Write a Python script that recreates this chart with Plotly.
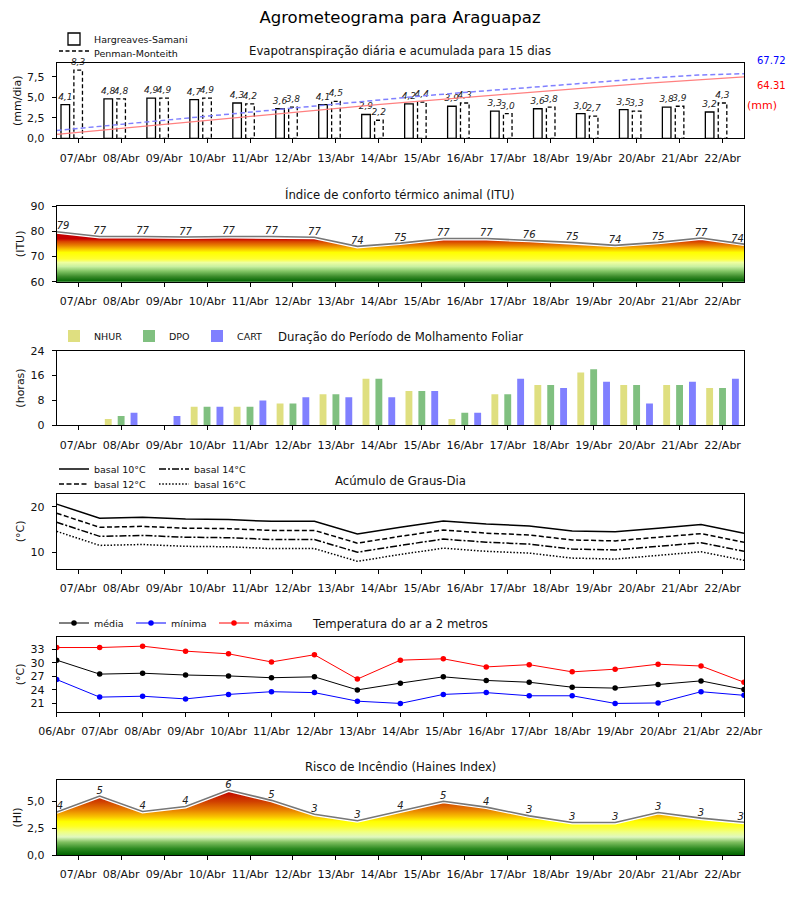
import plotly.graph_objects as go

# ---------------- data ----------------
dates = ["06/Abr", "07/Abr", "08/Abr", "09/Abr", "10/Abr", "11/Abr", "12/Abr", "13/Abr",
         "14/Abr", "15/Abr", "16/Abr", "17/Abr", "18/Abr", "19/Abr", "20/Abr", "21/Abr", "22/Abr"]
days = dates[1:]

et_hs = [4.1, 4.8, 4.9, 4.7, 4.3, 3.6, 4.1, 2.9, 4.2, 3.9, 3.3, 3.6, 3.0, 3.5, 3.8, 3.2]
et_pm = [8.3, 4.8, 4.9, 4.9, 4.2, 3.8, 4.5, 2.2, 4.4, 4.3, 3.0, 3.8, 2.7, 3.3, 3.9, 4.3]
cum_hs = [4.1, 8.6, 13.1, 17.5, 22.0, 26.4, 30.8, 35.2, 39.3, 43.2, 47.0, 50.8, 54.5, 58.0, 61.4, 64.31]
cum_pm = [8.3, 12.9, 17.5, 22.1, 26.6, 31.2, 35.8, 40.3, 44.5, 48.4, 52.2, 56.0, 59.7, 63.3, 66.3, 67.72]

itu = [79.8, 77.9, 77.9, 77.7, 77.9, 77.9, 77.6, 74.0, 75.3, 77.1, 77.1, 76.4, 75.6, 74.4, 75.6, 77.3, 74.9]

nhur = [0, 2, 0, 6, 6, 7, 10, 15, 11, 2, 10, 13, 17, 13, 13, 12]
dpo = [0, 3, 0, 6, 6, 7, 10, 15, 11, 4, 10, 13, 18, 13, 13, 12]
cart = [0, 4, 3, 6, 8, 9, 9, 9, 11, 4, 15, 12, 14, 7, 14, 15]

gd10 = [20.6, 17.5, 17.7, 17.3, 17.2, 16.8, 16.8, 14.0, 15.5, 16.9, 16.2, 15.8, 14.7, 14.5, 15.3, 16.1, 14.2]
gd12 = [18.6, 15.5, 15.7, 15.3, 15.2, 14.8, 14.8, 12.0, 13.5, 14.9, 14.2, 13.8, 12.7, 12.5, 13.3, 14.1, 12.2]
gd14 = [16.6, 13.5, 13.7, 13.3, 13.2, 12.8, 12.8, 10.0, 11.5, 12.9, 12.2, 11.8, 10.7, 10.5, 11.3, 12.1, 10.2]
gd16 = [14.6, 11.5, 11.7, 11.3, 11.2, 10.8, 10.8, 8.0, 9.5, 10.9, 10.2, 9.8, 8.7, 8.5, 9.3, 10.1, 8.2]

t_med = [30.6, 27.5, 27.7, 27.3, 27.1, 26.7, 26.9, 24.0, 25.5, 26.9, 26.1, 25.7, 24.6, 24.4, 25.2, 26.0, 24.1]
t_min = [26.3, 22.4, 22.6, 22.0, 23.0, 23.6, 23.4, 21.5, 21.0, 23.0, 23.4, 22.7, 22.7, 21.0, 21.1, 23.6, 22.8]
t_max = [33.4, 33.4, 33.7, 32.6, 32.0, 30.2, 31.8, 26.4, 30.6, 30.9, 29.1, 29.6, 28.0, 28.6, 29.7, 29.3, 25.7]

haines = [4.02, 5.5, 4.06, 4.53, 6.06, 5.1, 3.8, 3.2, 4.1, 5.02, 4.47, 3.65, 3.03, 3.03, 3.97, 3.44, 3.05]

# ---------------- helpers ----------------
FONT = "DejaVu Sans"
OX, OY = 8, 8            # page body margin of the browser
W, H = 784, 884          # figure size so that it fits the 800x900 window


def px(xs):
    return (xs - OX) / W


def py(ys):
    return 1 - (ys - OY) / H


XDOM = [px(56.7), px(744)]


def ydom(top_px, bot_px):
    return [py(bot_px), py(top_px)]


def axstyle(**kw):
    d = dict(showline=True, mirror=True, linecolor="black", linewidth=1, automargin=False,
             ticks="outside", ticklen=4, tickcolor="black", showgrid=False, ticklabelstandoff=5,
             zeroline=False, tickfont=dict(size=11, color="#111", family=FONT))
    d.update(kw)
    return d


def leg(text_x, ypx):
    return dict(x=px(text_x - 39), y=py(ypx), xanchor="left", yanchor="middle", orientation="v",
                font=dict(size=9.5, family=FONT, color="#111"), bgcolor="rgba(0,0,0,0)",
                borderwidth=0, tracegroupgap=0, itemwidth=30)


n_bar = len(days)
n_pt = len(dates)
bar_idx = list(range(n_bar))
pt_idx = list(range(n_pt))
mid_ticks = [i + 0.5 for i in range(n_bar)]

fig = go.Figure()

# ---------- Panel 1: ET ----------
fig.add_trace(go.Bar(x=bar_idx, y=et_hs, width=0.2, offset=-0.4,
                     marker=dict(color="white", line=dict(color="black", width=1.3)),
                     texttemplate="%{y:.1f}", textposition="outside", constraintext="none",
                     cliponaxis=False, textfont=dict(size=9, style="italic", color="#222", family=FONT),
                     name="Hargreaves-Samani", legend="legend", xaxis="x", yaxis="y"))
fig.add_trace(go.Bar(x=bar_idx, y=et_pm, width=0.2, offset=-0.1,
                     marker=dict(color="white", line=dict(width=0)),
                     texttemplate="%{y:.1f}", textposition="outside", constraintext="none",
                     cliponaxis=False, textfont=dict(size=9, style="italic", color="#222", family=FONT),
                     showlegend=False, xaxis="x", yaxis="y"))
pm_x, pm_y = [], []
for i, v in enumerate(et_pm):
    pm_x += [i - 0.1, i - 0.1, i + 0.1, i + 0.1, i - 0.1, None]
    pm_y += [0, v, v, 0, 0, None]
fig.add_trace(go.Scatter(x=pm_x, y=pm_y, mode="lines", fill="toself", fillcolor="white",
                         line=dict(color="black", width=1.3, dash="4px,2.5px"),
                         name="Penman-Monteith", legend="legend2", xaxis="x", yaxis="y"))
fig.add_trace(go.Scatter(x=bar_idx, y=cum_hs, mode="lines", line=dict(color="#ff8080", width=1.3),
                         showlegend=False, xaxis="x7", yaxis="y7"))
fig.add_trace(go.Scatter(x=bar_idx, y=cum_pm, mode="lines",
                         line=dict(color="#8080ff", width=1.5, dash="5px,3px"),
                         showlegend=False, xaxis="x7", yaxis="y7"))

# ---------- Panel 2: ITU ----------
itu_scale = [[0.0, "#006400"], [0.1, "#3a8a2a"], [0.2, "#7cc060"], [0.3, "#c8f0a0"],
             [0.38, "#eeffa0"], [0.45, "#ffff30"], [0.58, "#ffff00"], [0.65, "#f8c000"],
             [0.72, "#e88000"], [0.8, "#d84000"], [0.85, "#c80000"], [1.0, "#c00000"]]
fig.add_trace(go.Scatter(x=pt_idx, y=itu, mode="lines", fill="tozeroy",
                         fillgradient=dict(type="vertical", colorscale=itu_scale, start=60, stop=80),
                         line=dict(width=0), showlegend=False, xaxis="x2", yaxis="y2"))
fig.add_trace(go.Scatter(x=pt_idx, y=itu, mode="lines", line=dict(color="white", width=4),
                         showlegend=False, xaxis="x2", yaxis="y2"))
fig.add_trace(go.Scatter(x=pt_idx, y=itu, mode="lines", line=dict(color="#777777", width=1.6),
                         showlegend=False, xaxis="x2", yaxis="y2"))
edge_pos = ["top right"] + ["top center"] * (n_pt - 2) + ["top left"]
fig.add_trace(go.Scatter(x=pt_idx, y=itu, mode="text", text=[str(int(v)) for v in itu],
                         textposition=edge_pos, cliponaxis=False,
                         textfont=dict(size=10, style="italic", color="#222", family=FONT),
                         showlegend=False, xaxis="x2", yaxis="y2"))

# ---------- Panel 3: wetness ----------
for vals, name, col, off, lg in [(nhur, "NHUR", "#dfdf80", -0.38, "legend3"),
                                 (dpo, "DPO", "#80c080", -0.08, "legend4"),
                                 (cart, "CART", "#8080ff", 0.22, "legend5")]:
    fig.add_trace(go.Bar(x=bar_idx, y=vals, width=0.16, offset=off, marker=dict(color=col, line=dict(width=0)),
                         name=name, legend=lg, xaxis="x3", yaxis="y3"))

# ---------- Panel 4: degree days ----------
for vals, name, dash, lg in [(gd10, "basal 10°C", "solid", "legend6"),
                             (gd12, "basal 12°C", "5px,2.5px", "legend7"),
                             (gd14, "basal 14°C", "7px,2px,2px,2px", "legend8"),
                             (gd16, "basal 16°C", "1.5px,1.8px", "legend9")]:
    fig.add_trace(go.Scatter(x=pt_idx, y=vals, mode="lines", line=dict(color="black", width=1.5, dash=dash),
                             name=name, legend=lg, xaxis="x4", yaxis="y4"))

# ---------- Panel 5: temperature ----------
for vals, name, col, lg in [(t_med, "média", "black", "legend10"), (t_min, "mínima", "blue", "legend11"),
                            (t_max, "máxima", "red", "legend12")]:
    fig.add_trace(go.Scatter(x=pt_idx, y=vals, mode="lines+markers", line=dict(color=col, width=1),
                             marker=dict(color=col, size=5.5), name=name, legend=lg,
                             xaxis="x5", yaxis="y5"))

# ---------- Panel 6: Haines ----------
hi_scale = [[0.0, "#006400"], [0.1, "#2e8b22"], [0.2, "#80c060"], [0.28, "#e0f8c0"],
            [0.36, "#f0ff80"], [0.45, "#ffff20"], [0.52, "#ffff00"], [0.6, "#f8c000"],
            [0.7, "#e88000"], [0.83, "#d04000"], [1.0, "#c00000"]]
fig.add_trace(go.Scatter(x=pt_idx, y=haines, mode="lines", fill="tozeroy",
                         fillgradient=dict(type="vertical", colorscale=hi_scale, start=0, stop=6),
                         line=dict(width=0), showlegend=False, xaxis="x6", yaxis="y6"))
fig.add_trace(go.Scatter(x=pt_idx, y=haines, mode="lines", line=dict(color="white", width=4),
                         showlegend=False, xaxis="x6", yaxis="y6"))
fig.add_trace(go.Scatter(x=pt_idx, y=haines, mode="lines", line=dict(color="#777777", width=1.6),
                         showlegend=False, xaxis="x6", yaxis="y6"))
fig.add_trace(go.Scatter(x=pt_idx, y=haines, mode="text", text=[str(int(v)) for v in haines],
                         textposition=edge_pos, cliponaxis=False,
                         textfont=dict(size=10, style="italic", color="#222", family=FONT),
                         showlegend=False, xaxis="x6", yaxis="y6"))

# ---------------- layout ----------------
ytitle = lambda t: dict(text=t, font=dict(size=11, color="#111", family=FONT), standoff=3)

layout = dict(
    template="none",
    width=W, height=H, margin=dict(l=0, r=0, t=0, b=0, autoexpand=False),
    paper_bgcolor="white", plot_bgcolor="white", separators=",.",
    barmode="overlay", font=dict(family=FONT, color="#111"),
    title=dict(text="Agrometeograma para Araguapaz", x=px(400), xanchor="center", y=py(17), yanchor="middle",
               font=dict(size=16.5, color="black", family=FONT)),
    xaxis=axstyle(domain=XDOM, anchor="y", range=[-0.5, 15.5], tickvals=bar_idx, ticktext=days),
    yaxis=axstyle(domain=ydom(63.3, 138.3), anchor="x", range=[0, 9.13], tickvals=[0, 2.5, 5, 7.5],
                  tickformat=".1f", title=ytitle("(mm/dia)")),
    xaxis7=dict(overlaying="x", anchor="y7", range=[0, 15], visible=False),
    yaxis7=dict(overlaying="y", anchor="x7", side="right", range=[0, 78.6], visible=False),
    xaxis2=axstyle(domain=XDOM, anchor="y2", range=[0, 16], tickvals=mid_ticks, ticktext=days),
    yaxis2=axstyle(domain=ydom(206, 281.7), anchor="x2", range=[60, 90], tickvals=[60, 70, 80, 90],
                   title=ytitle("(ITU)")),
    xaxis3=axstyle(domain=XDOM, anchor="y3", range=[-0.5, 15.5], tickvals=bar_idx, ticktext=days),
    yaxis3=axstyle(domain=ydom(350.7, 425.3), anchor="x3", range=[0, 24], tickvals=[0, 8, 16, 24],
                   title=ytitle("(horas)")),
    xaxis4=axstyle(domain=XDOM, anchor="y4", range=[0, 16], tickvals=mid_ticks, ticktext=days),
    yaxis4=axstyle(domain=ydom(493.7, 569), anchor="x4", range=[6.3, 22.9], tickvals=[10, 20],
                   title=ytitle("(°C)")),
    xaxis5=axstyle(domain=XDOM, anchor="y5", range=[0, 16], tickvals=pt_idx, ticktext=dates),
    yaxis5=axstyle(domain=ydom(636.7, 712), anchor="x5", range=[19.1, 35.8], tickvals=[21, 24, 27, 30, 33],
                   title=ytitle("(°C)")),
    xaxis6=axstyle(domain=XDOM, anchor="y6", range=[0, 16], tickvals=mid_ticks, ticktext=days),
    yaxis6=axstyle(domain=ydom(780, 855), anchor="x6", range=[0, 7], tickvals=[0, 2.5, 5],
                   tickformat=".1f", title=ytitle("(HI)")),
    legend=leg(93, 39), legend2=leg(93, 53),
    legend3=leg(93, 336), legend4=leg(168, 336), legend5=leg(236, 336),
    legend6=leg(93, 469), legend7=leg(93, 484), legend8=leg(193, 469), legend9=leg(193, 484),
    legend10=leg(93, 623), legend11=leg(170, 623), legend12=leg(253, 623),
)
fig.update_layout(**layout)

titles = [("Evapotranspiração diária e acumulada para 15 dias", 51),
          ("Índice de conforto térmico animal (ITU)", 194),
          ("Duração do Período de Molhamento Foliar", 337),
          ("Acúmulo de Graus-Dia", 481),
          ("Temperatura do ar a 2 metros", 624),
          ("Risco de Incêndio (Haines Index)", 767)]
for txt, ypx in titles:
    fig.add_annotation(text=txt, x=px(400), y=py(ypx), xref="paper", yref="paper", showarrow=False,
                       xanchor="center", yanchor="middle", font=dict(size=11.7, color="#111", family=FONT))

fig.add_annotation(text=f"{cum_pm[-1]:.2f}", x=px(755), y=py(60), xref="paper", yref="paper",
                   showarrow=False, xanchor="left", yanchor="middle", font=dict(size=10, color="blue", family=FONT))
fig.add_annotation(text=f"{cum_hs[-1]:.2f}", x=px(755), y=py(85), xref="paper", yref="paper",
                   showarrow=False, xanchor="left", yanchor="middle", font=dict(size=10, color="red", family=FONT))
fig.add_annotation(text="(mm)", x=px(745), y=py(105), xref="paper", yref="paper",
                   showarrow=False, xanchor="left", yanchor="middle", font=dict(size=11, color="red", family=FONT))

fig.write_html("out.html")
